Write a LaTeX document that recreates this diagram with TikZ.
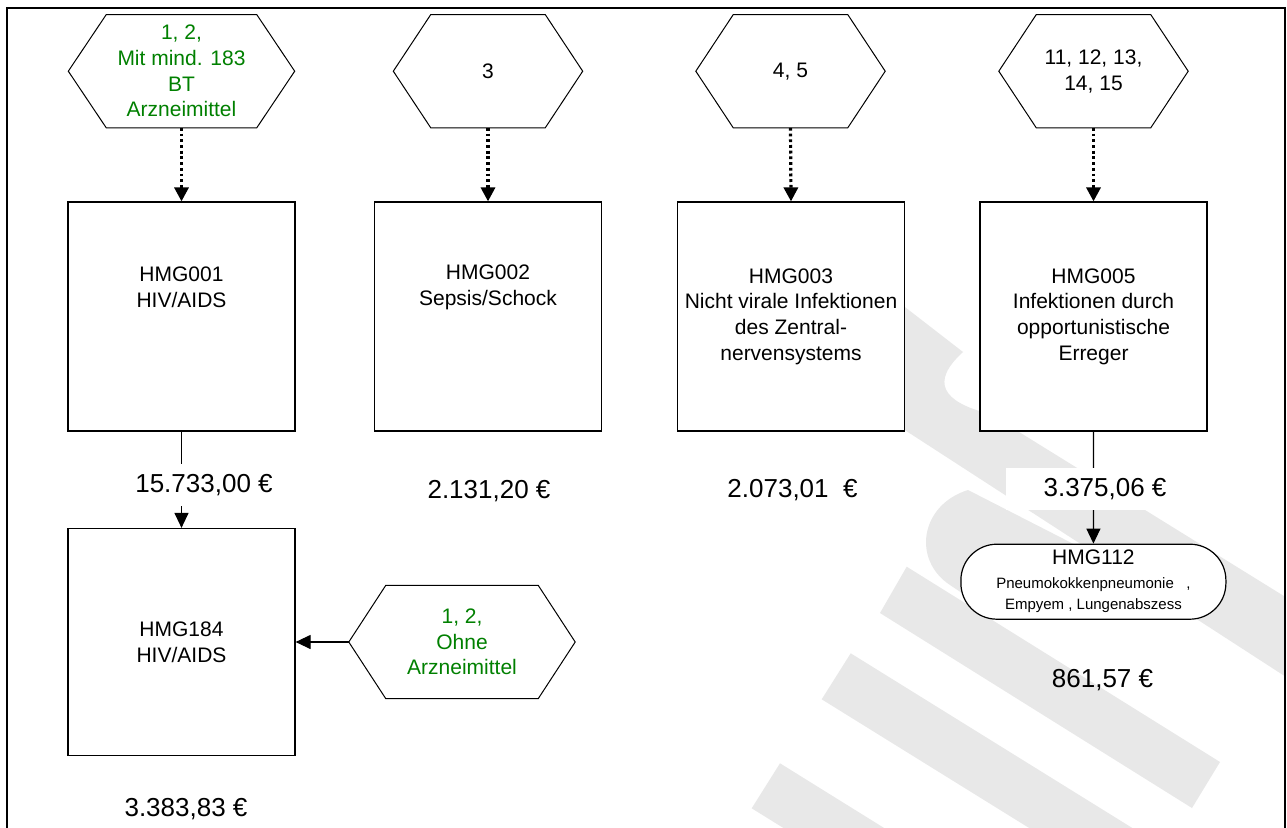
\documentclass[tikz,border=0pt]{standalone}
\usepackage{fontspec}
\setmainfont{Liberation Sans}
\usetikzlibrary{arrows.meta,calc}
\definecolor{wm}{RGB}{232,232,232}
\definecolor{tgreen}{RGB}{0,128,0}
\newcommand\hmgfont{\fontsize{21}{25.7}\selectfont}
\newcommand\eurofont{\fontsize{26}{30}\selectfont}
\newcommand\smallhmgfont{\fontsize{15}{21}\selectfont}
\begin{document}
\begin{tikzpicture}[x=1pt,y=-1pt,
  boxn/.style={draw=black,line width=1.2pt,fill=white,minimum width=227pt,minimum height=229pt,inner sep=0pt,align=center,font=\hmgfont},
  hexn/.style={minimum width=#1,minimum height=113pt,inner sep=0pt,align=center,font=\hmgfont},
  hexline/.style={draw=black,line width=1pt,line join=miter},
  euro/.style={font=\eurofont,inner sep=0pt},
  eurobg/.style={euro,fill=white,minimum width=198pt,minimum height=42pt},
  dotarrow/.style={line width=3.2pt,dash pattern=on 2.8pt off 2.9pt,line cap=butt,-{Triangle[length=14pt,width=14pt]}},
  solidarrow/.style={line width=1.2pt,-{Triangle[length=15pt,width=14pt]}},
  txt/.style={font=\hmgfont,align=center,inner sep=0pt},
  stadium/.style={draw=black,line width=1.2pt,fill=white,rounded corners=36pt,minimum width=265pt,minimum height=75pt,inner sep=0pt,align=center,font=\smallhmgfont}
]
\useasboundingbox (0,0) rectangle (1287,827);
\clip (0,0) rectangle (1287,827);
\fill[white] (0,0) rectangle (1287,827);

% watermark
\begin{scope}
\clip (7,7.8) rectangle (1285,827);
\fill[wm] (870,280) -- (963,352) .. controls (930,382) and (942,402) .. (990,414) -- (1300,606) -- (1300,686) -- (880,414) -- cycle;
\fill[wm] (968,490) -- (1095,555) -- (1095,612) -- (990,612) -- (950,585) .. controls (912,560) and (920,505) .. (968,490) -- cycle;
\fill[wm] (880,613) -- (906.7,566.7) -- (1220,762) -- (1192,808) -- cycle;
\fill[wm] (821.7,699.3) -- (850.7,653.3) -- (1250,901) -- (1221,947) -- cycle;
\fill[wm] (751.7,808.3) -- (780,763.3) -- (1000,900) -- (972,945) -- cycle;
\end{scope}

% frame
\draw[line width=2.3pt] (7,7.8) rectangle (1285,850);

% hexagons
\node[hexn=226pt,text=tgreen] (h1) at (181.5,71.2) {1, 2,\\Mit mind. 183\\BT\\Arzneimittel};
\node[hexn=189pt] (h2) at (488,71.2) {3};
\node[hexn=189pt] (h3) at (790.5,71.2) {4, 5};
\node[hexn=189pt] (h4) at (1093.5,71.2) {11, 12, 13,\\14, 15};
\node[hexn=226pt,text=tgreen] (h5) at (462,642) {1, 2,\\Ohne\\Arzneimittel};
\foreach \n/\d in {h1/38,h2/37.5,h3/37.5,h4/37.5,h5/37}{
  \draw[hexline] (\n.west) -- ($(\n.north west)+(\d,0)$) -- ($(\n.north east)+(-\d,0)$) -- (\n.east) -- ($(\n.south east)+(-\d,0)$) -- ($(\n.south west)+(\d,0)$) -- cycle;
}

% boxes
\node[boxn] (b1) at (181.5,316.5) {};
\node[txt] (t1) at (181.5,287.5) {HMG001\\HIV/AIDS};
\node[boxn] (b2) at (488,316.5) {};
\node[txt] (t2) at (488,287.5) {HMG002\\Sepsis/Schock};
\node[boxn] (b3) at (791,316.5) {HMG003\\Nicht virale Infektionen\\des Zentral-\\nervensystems};
\node[boxn] (b4) at (1093.5,316.5) {HMG005\\Infektionen durch\\opportunistische\\Erreger};
\node[boxn,minimum height=227pt] (b5) at (181.5,642) {HMG184\\HIV/AIDS};
\node[stadium] (m112) at (1093.4,581.7) {{\hmgfont HMG112}\\[3pt]Pneumokokkenpneumonie\ \ \ ,\\Empyem , Lungenabszess};

% connectors
\draw[dotarrow] (h1.south) -- (b1.north);
\draw[dotarrow] (h2.south) -- (b2.north);
\draw[dotarrow] (h3.south) -- (b3.north);
\draw[dotarrow] (h4.south) -- (b4.north);
\draw[solidarrow] (b1.south) -- (b5.north);
\draw[solidarrow] (h5.west) -- (b5.east);
\draw[solidarrow] (b4.south) -- (m112.north);

% cost labels
\node[eurobg] (l1) at (204,485) {15.733,00 €};
\node[euro] (l2) at (489,491) {2.131,20 €};
\node[euro] (l3) at (792.5,490) {2.073,01\ \ €};
\node[eurobg] (l4) at (1105,489) {3.375,06 €};
\node[euro] (l5) at (186,809) {3.383,83 €};
\node[euro] (l6) at (1102.5,680) {861,57 €};
\end{tikzpicture}
\end{document}
